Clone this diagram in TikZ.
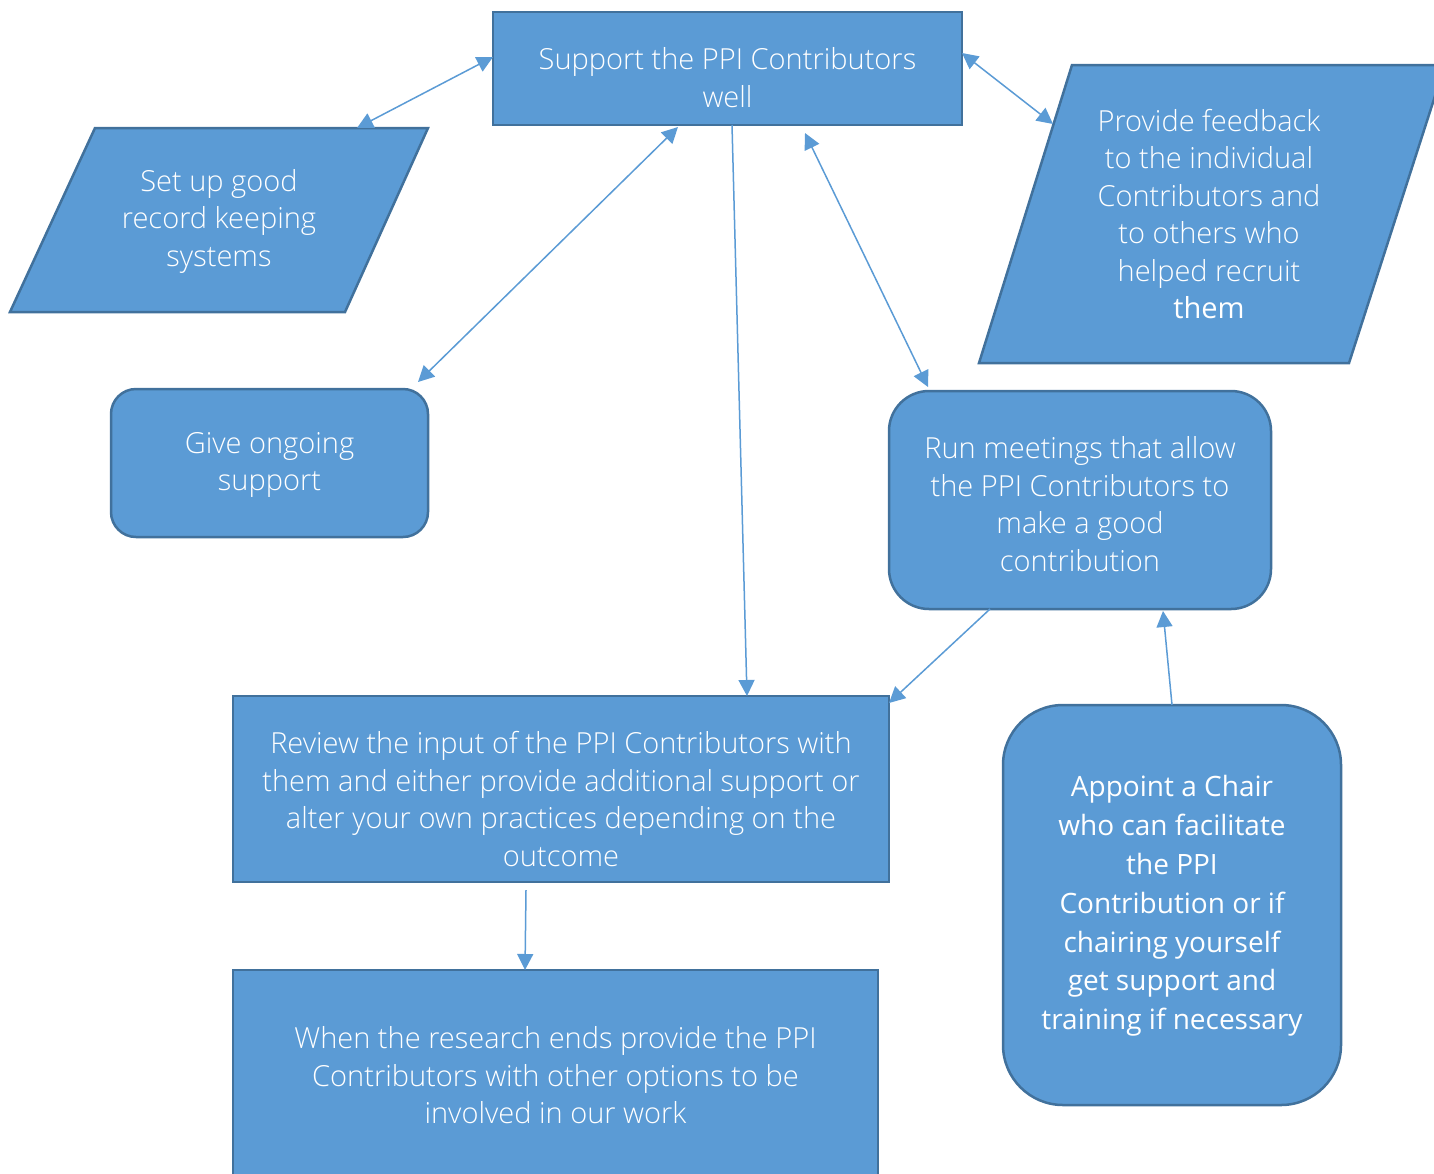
\documentclass[tikz,border=0pt]{standalone}
\usepackage{fontspec}
\usetikzlibrary{arrows.meta,calc}
\IfFontExistsTF{Open Sans Light}{\newfontfamily\lightf{Open Sans Light}}{\newfontfamily\lightf{Open Sans}}
\newfontfamily\regf{Open Sans}
\definecolor{boxfill}{HTML}{5B9BD5}
\definecolor{boxline}{HTML}{41719C}
\begin{document}
\begin{tikzpicture}[x=1pt,y=-1pt,
  shapebox/.style={draw=boxline,fill=boxfill,line width=2.5pt,inner sep=0pt,outer sep=0pt},
  txt/.style={text=white,align=center,font=\lightf\fontsize{29}{37.5}\selectfont,inner sep=0pt},
  txtreg/.style={text=white,align=center,font=\regf\fontsize{28}{38.8}\selectfont,inner sep=0pt},
  conn/.style={draw=boxfill,line width=1.5pt},
  tip/.style={-{Triangle[length=16pt,width=16pt]}},
  tips/.style={{Triangle[length=16pt,width=16pt]}-{Triangle[length=16pt,width=16pt]}}]
\useasboundingbox (0,0) rectangle (1434,1173);

% top box
\node[shapebox,minimum width=469pt,minimum height=113pt,
  label={[txt,yshift=-9pt]center:Support the PPI Contributors\\well}] (top) at (727.5,68.5) {};

% set up parallelogram
\draw[shapebox] (95,128) -- (428,128) -- (345,312) -- (10,312) -- cycle;
\node[txt] (setup) at (219,221) {Set up good\\record keeping\\systems};
\coordinate (setupN) at (357,128);

% feedback parallelogram
\draw[shapebox] (1072,65) -- (1445,65) -- (1349,363) -- (979,363) -- cycle;
\node[txt] (feedback) at (1209,214) {Provide feedback\\to the individual\\Contributors and\\to others who\\helped recruit\\{\regf them}};
\coordinate (fbW) at (1053,124);

% give ongoing support
\node[shapebox,rounded corners=25pt,minimum width=317pt,minimum height=148pt,
  label={[txt,yshift=-2pt]center:Give ongoing\\support}] (support) at (269.5,463) {};

% run meetings
\node[shapebox,rounded corners=40pt,minimum width=382pt,minimum height=218pt,
  label={[txt,yshift=-4pt]center:Run meetings that allow\\the PPI Contributors to\\make a good\\contribution}] (run) at (1080,500) {};

% review
\node[shapebox,minimum width=656pt,minimum height=186pt,
  label={[txt,yshift=-10pt]center:Review the input of the PPI Contributors with\\them and either provide additional support or\\alter your own practices depending on the\\outcome}] (review) at (561,789) {};

% when
\node[shapebox,minimum width=645pt,minimum height=215pt,
  label={[txt,yshift=2pt]center:When the research ends provide the PPI\\Contributors with other options to be\\involved in our work}] (when) at (555.5,1077.5) {};

% appoint
\node[shapebox,rounded corners=60pt,minimum width=338pt,minimum height=400pt,
  label={[txtreg,yshift=-1pt]center:Appoint a Chair\\who can facilitate\\the PPI\\Contribution or if\\chairing yourself\\get support and\\training if necessary}] (appoint) at (1172,905) {};

% connectors
\draw[conn,tips] (setupN) -- ([yshift=11.5pt]top.west);
\draw[conn,tips] ([yshift=15.5pt]top.east) -- (fbW);
\draw[conn,tips] ([xshift=-49.5pt,yshift=-2pt]top.south) -- ([xshift=-10pt,yshift=7pt]support.north east);
\draw[conn,tips] ([xshift=77.5pt,yshift=-8pt]top.south) -- ([xshift=39pt,yshift=4pt]run.north west);
\draw[conn,tip] ([xshift=4.5pt]top.south) -- ([xshift=186pt]review.north);
\draw[conn,tip] ([xshift=-90pt]run.south) -- ([yshift=-7pt]review.north east);
\draw[conn,tip] (appoint.north) -- ([xshift=83pt,yshift=-2pt]run.south);
\draw[conn,tip] ([xshift=-35pt,yshift=-8pt]review.south) -- ([xshift=-30.5pt]when.north);
\end{tikzpicture}
\end{document}
